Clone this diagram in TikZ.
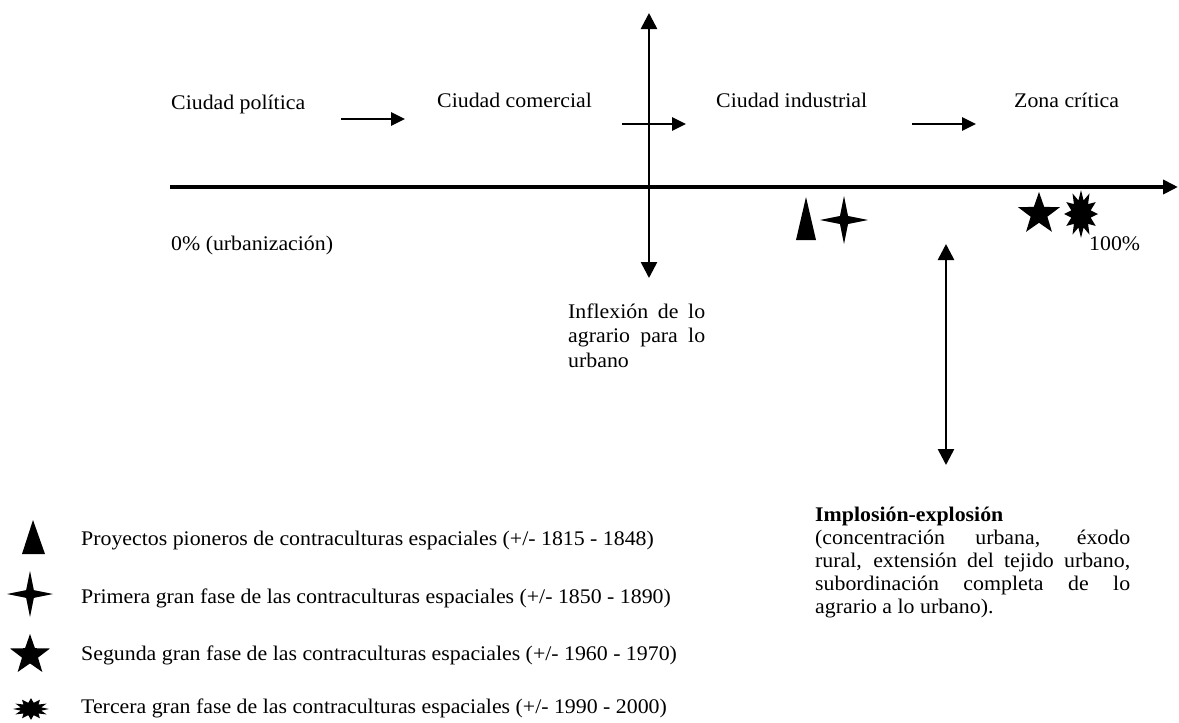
\documentclass[tikz,border=0pt]{standalone}
\usepackage{fontspec}
\setmainfont{Liberation Serif}[FakeStretch=1.05]
\usepackage{tikz}
\usetikzlibrary{arrows.meta,shapes.geometric}
\tikzstyle{label}=[inner sep=0pt,anchor=base west,font=\fontsize{20.8}{24.5}\selectfont]
\tikzstyle{axis} = [draw,line width=4.5pt,-{Triangle[length=15pt,width=14pt]}]
\tikzstyle{phase} = [draw,line width=2.6pt,-{Triangle[length=14pt,width=13pt]}]
\tikzstyle{limit} = [draw,line width=2.6pt,{Triangle[length=16pt,width=16pt]}-{Triangle[length=16pt,width=16pt]}]
\tikzstyle{cross4}=[star,star points=4,star point ratio=4.2,fill=black,inner sep=0pt]
\tikzstyle{star5}=[star,star points=5,star point ratio=2.5,fill=black,inner sep=0pt]
\tikzstyle{burst}=[star,star points=12,star point ratio=1.7,fill=black,inner sep=0pt]

\begin{document}
\begin{tikzpicture}[x=1pt,y=-1pt]
				\useasboundingbox (0,0) rectangle (1179,723);

				% First we place the labels along the top and the axis
				\foreach \pos/\name/\txt in {{(171,109)/pol/Ciudad política}, {(437,107)/com/Ciudad comercial},
										{(716,107)/ind/Ciudad industrial}, {(1014,107)/zon/Zona crítica},
										{(171,250)/cero/0\% (urbanización)}, {(1089,250)/cien/100\%}}
				\node[label] (\name) at \pos {\txt};

				% Axis and the turning points
				\coordinate (ini) at (170,187);
				\coordinate (fin) at (1178,187);
				\path[axis] (ini) -- (fin);

				\coordinate (inf-a) at (649,13);
				\coordinate (inf-b) at (649,278);
				\path[limit] (inf-a) -- (inf-b);

				\coordinate (imp-a) at (946,244);
				\coordinate (imp-b) at (946,465);
				\path[limit] (imp-a) -- (imp-b);

				% Short arrows between the stages
				\foreach \a/\b/\y in {341/405/119, 622/686/124, 912/976/124}{
				\coordinate (p\a) at (\a,\y);
				\coordinate (q\a) at (\b,\y);
				\path[phase] (p\a) -- (q\a);
				}

				% Texts under the axis
				\node[label,text width=137pt,align=justify] (inflexion) at (568,318)
					{Inflexión de lo\linebreak agrario para lo\linebreak urbano};
				\node[label,text width=315pt,align=justify,font=\fontsize{20.8}{23}\selectfont] (implosion) at (815,521)
					{\textbf{Implosión-explosión}\newline(concentración urbana, éxodo\linebreak
					rural, extensión del tejido urbano,\linebreak subordinación completa de lo\linebreak
					agrario a lo urbano).};

				% Symbols on the axis
				\coordinate (t1) at (806,218);
				\fill (t1) ++(-10,22) -- ++(20,0) -- ++(-10,-43) -- cycle;
				\node[cross4,minimum size=48pt] (c1) at (844,220) {};
				\node[star5,minimum size=44pt] (s1) at (1039,214) {};
				\node[burst,minimum size=34pt,yscale=1.4] (b1) at (1081,214) {};

				% Legend
				\coordinate (t2) at (33,537);
				\fill (t2) ++(-11,17) -- ++(23,0) -- ++(-12,-34) -- cycle;
				\node[cross4,minimum size=46pt] (c2) at (30,594) {};
				\node[star5,minimum size=42pt] (s2) at (30,655) {};
				\node[burst,minimum size=36pt,yscale=0.6] (b2) at (31,709) {};

				\foreach \y/\name/\txt in {545/l1/{Proyectos pioneros de contraculturas espaciales (+/- 1815 - 1848)},
										603/l2/{Primera gran fase de las contraculturas espaciales (+/- 1850 - 1890)},
										660/l3/{Segunda gran fase de las contraculturas espaciales (+/- 1960 - 1970)},
										713/l4/{Tercera gran fase de las contraculturas espaciales (+/- 1990 - 2000)}}
				\node[label] (\name) at (81,\y) {\txt};

			\end{tikzpicture}
\end{document}
